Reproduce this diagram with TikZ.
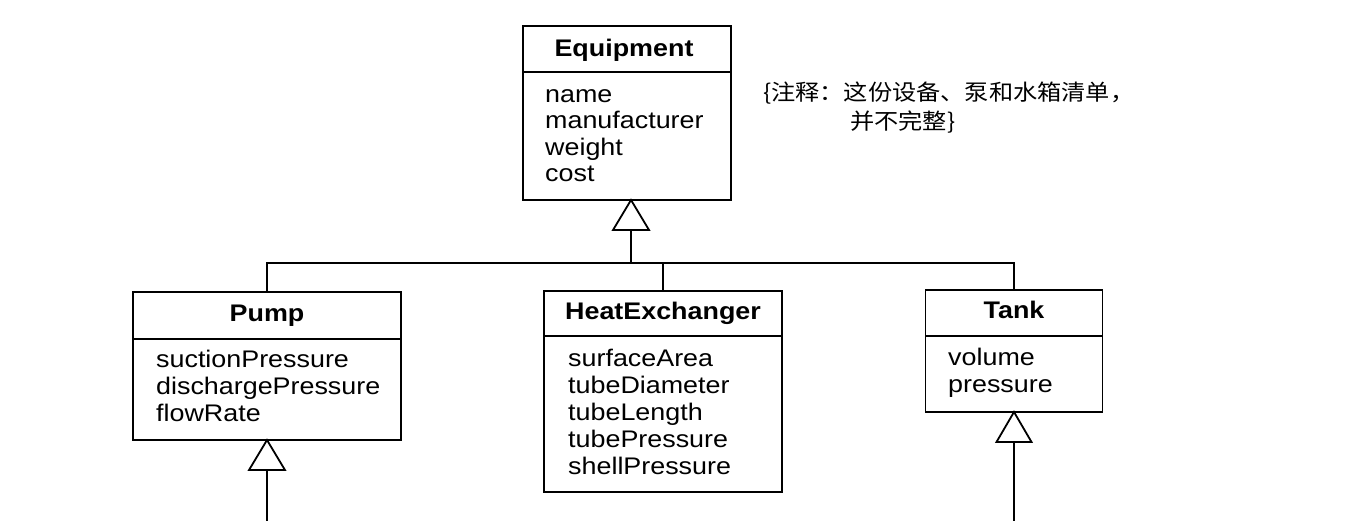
\documentclass[tikz,border=0pt]{standalone}
\usepackage{fontspec}
\setmainfont{Liberation Sans}[FakeStretch=1.12]
\newfontfamily\cjk{Noto Sans CJK SC}[FakeStretch=1.1]
\begin{document}
\begin{tikzpicture}[x=1pt,y=-1pt,
  cls/.style={draw, line width=1.8pt, inner sep=0pt, outer sep=0pt},
  hdr/.style={anchor=base, font=\fontsize{24}{27}\selectfont\bfseries, inner sep=0pt},
  attr/.style={anchor=base west, font=\fontsize{24}{27}\selectfont, inner sep=0pt},
  conn/.style={line width=1.8pt},
  gen/.style={line width=1.8pt, fill=white, line join=miter},
  note/.style={anchor=base west, font=\cjk\fontsize{22}{25}\selectfont, inner sep=0pt}]
\useasboundingbox (0,0) rectangle (1365,520);
\coordinate (bus) at (0,263);
\coordinate (bottom) at (0,521);

% Equipment
\node[cls, minimum width=208pt, minimum height=174pt] (equip) at (627,113) {};
\draw[conn] ([yshift=-46pt]equip.north west) -- ([yshift=-46pt]equip.north east);
\node[hdr] (equipH) at (624,56) {Equipment};
\foreach \t [count=\i from 0] in {name,manufacturer,weight,cost}
  \node[attr] (eqa\i) at (545,{102+26.5*\i}) {\t};

% Pump
\node[cls, minimum width=268pt, minimum height=148pt] (pump) at (267,366) {};
\draw[conn] ([yshift=-47pt]pump.north west) -- ([yshift=-47pt]pump.north east);
\node[hdr] (pumpH) at (267,321) {Pump};
\foreach \t [count=\i from 0] in {suctionPressure,dischargePressure,flowRate}
  \node[attr] (pua\i) at (156,{367+27*\i}) {\t};

% HeatExchanger
\node[cls, minimum width=238pt, minimum height=201pt] (he) at (663,391.5) {};
\draw[conn] ([yshift=-45pt]he.north west) -- ([yshift=-45pt]he.north east);
\node[hdr] (heH) at (663,319) {HeatExchanger};
\foreach \t [count=\i from 0] in {surfaceArea,tubeDiameter,tubeLength,tubePressure,shellPressure}
  \node[attr] (hea\i) at (568,{366+27.2*\i}) {\t};

% Tank
\node[cls, minimum width=177pt, minimum height=122pt] (tank) at (1014,351) {};
\draw[conn] ([yshift=-46pt]tank.north west) -- ([yshift=-46pt]tank.north east);
\node[hdr] (tankH) at (1014,318) {Tank};
\foreach \t [count=\i from 0] in {volume,pressure}
  \node[attr] (taa\i) at (948,{365+27*\i}) {\t};

% generalization: Equipment
\coordinate (eqtip) at ([xshift=4pt]equip.south);
\draw[gen] (eqtip) -- ++(-18,30) -- ++(36,0) -- cycle;
\draw[conn] ([yshift=-30pt]eqtip) -- (eqtip |- bus);
\draw[conn] (pump.north) -- (pump.north |- bus) -- (tank.north |- bus) -- (tank.north);
\draw[conn] (he.north) -- (he.north |- bus);

% generalization: Pump and Tank subclasses (off picture)
\draw[gen] (pump.south) -- ++(-18,30) -- ++(36,0) -- cycle;
\draw[conn] ([yshift=-30pt]pump.south) -- (pump.south |- bottom);
\draw[gen] (tank.south) -- ++(-17.5,30) -- ++(35,0) -- cycle;
\draw[conn] ([yshift=-30pt]tank.south) -- (tank.south |- bottom);

% note
\node[note] (note1) at (763,100) {\{注释：这份设备、泵和水箱清单，};
\node[note] (note2) at (850,129) {并不完整\}};
\end{tikzpicture}
\end{document}
